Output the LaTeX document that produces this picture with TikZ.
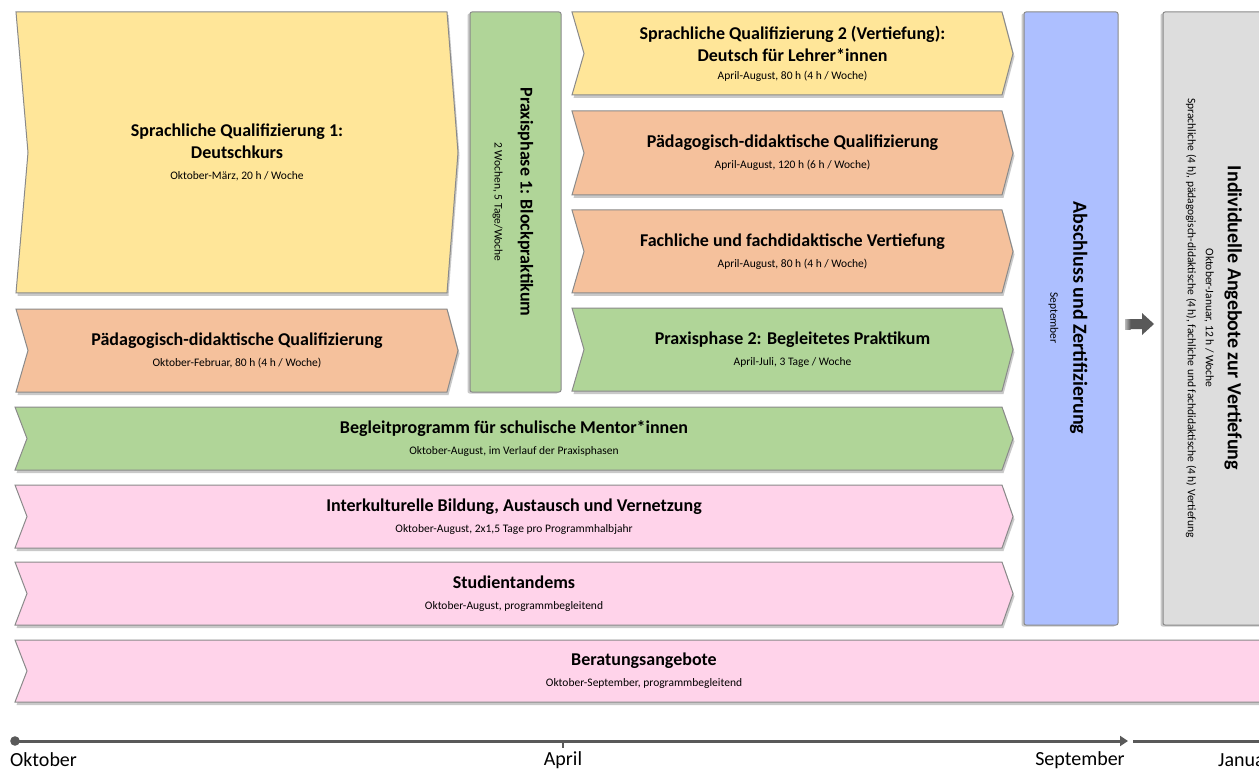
\documentclass[tikz,border=0pt]{standalone}
\usepackage{fontspec}
\setmainfont{Carlito}
\usetikzlibrary{shadows,arrows.meta}
\definecolor{cyel}{HTML}{FFE699}
\definecolor{cora}{HTML}{F5C19C}
\definecolor{cgrn}{HTML}{B0D598}
\definecolor{cpnk}{HTML}{FFD3EA}
\definecolor{cblu}{HTML}{ADBFFF}
\definecolor{cgry}{HTML}{DDDDDD}
\definecolor{cline}{HTML}{8A8A8A}
\definecolor{cdark}{HTML}{595959}
\newcommand\ttl{\fontsize{18}{22}\selectfont\bfseries}
\newcommand\bigttl{\fontsize{20}{24}\selectfont\bfseries}
\newcommand\subf{\fontsize{11.5}{14}\selectfont\mdseries}
\tikzset{
  box/.style={draw=cline, line width=1pt,
    drop shadow={shadow xshift=1.5pt, shadow yshift=-3pt, opacity=0.35, fill=black!60}},
  vbox/.style={draw=cline, line width=1pt, rounded corners=2pt,
    drop shadow={shadow xshift=-2.5pt, shadow yshift=-1.5pt, opacity=0.35, fill=black!60}},
  lbl/.style={align=center, font=\ttl, inner sep=0pt},
  tl/.style={draw=cdark, line width=3pt},
  tlbl/.style={font=\fontsize{20}{24}\selectfont, inner sep=0pt},
}
\newcommand\chev[6]{%
  \path[box, fill=#6] (#2,#3) -- (#4,#3) -- ({#4+11},{(#3+#5)/2}) -- (#4,#5) -- (#2,#5) -- ({#2+12},{(#3+#5)/2}) -- cycle;
  \coordinate (#1) at ({(#2+#4+11)/2},{(#3+#5)/2});
}
\begin{document}
\begin{tikzpicture}[x=1pt,y=-1pt]
\useasboundingbox (0,0) rectangle (1259,770);
\clip (0,0) rectangle (1259,770);
\fill[white] (0,0) rectangle (1259,770);

% left column
\chev{cA}{16}{12}{447}{293}{cyel}
\node[lbl] (tA) at (cA) {Sprachliche Qualifizierung 1:\\Deutschkurs\\[-1pt]\subf Oktober-März, 20 h / Woche};
\chev{cB}{16}{309}{447}{392}{cora}
\node[lbl] (tB) at (cB) {Pädagogisch-didaktische Qualifizierung\\[-1pt]\subf Oktober-Februar, 80 h (4 h / Woche)};

% Praxisphase 1
\path[vbox, fill=cgrn] (470,12) rectangle (561,392);
\node[lbl, rotate=-90] (tP1) at (513,202) {Praxisphase 1: Blockpraktikum\\[4pt]\subf 2 Wochen, 5 Tage/Woche};

% right column
\chev{cC}{572}{12}{1002}{95}{cyel}
\node[lbl] (tC) at (cC) {Sprachliche Qualifizierung 2 (Vertiefung):\\Deutsch für Lehrer*innen\\[-4pt]\subf April-August, 80 h (4 h / Woche)};
\chev{cD}{572}{111}{1002}{195}{cora}
\node[lbl] (tD) at (cD) {Pädagogisch-didaktische Qualifizierung\\[-1pt]\subf April-August, 120 h (6 h / Woche)};
\chev{cE}{572}{210}{1002}{293}{cora}
\node[lbl] (tE) at (cE) {Fachliche und fachdidaktische Vertiefung\\[-1pt]\subf April-August, 80 h (4 h / Woche)};
\chev{cF}{572}{308}{1002}{391}{cgrn}
\node[lbl] (tF) at (cF) {Praxisphase 2: Begleitetes Praktikum\\[-1pt]\subf April-Juli, 3 Tage / Woche};

% full rows
\chev{cG}{15}{407}{1002}{470}{cgrn}
\node[lbl] (tG) at (cG) {Begleitprogramm für schulische Mentor*innen\\[-1pt]\subf Oktober-August, im Verlauf der Praxisphasen};
\chev{cH}{15}{485}{1002}{548}{cpnk}
\node[lbl] (tH) at (cH) {Interkulturelle Bildung, Austausch und Vernetzung\\[-1pt]\subf Oktober-August, 2x1,5 Tage pro Programmhalbjahr};
\chev{cI}{15}{562}{1002}{625}{cpnk}
\node[lbl] (tI) at (cI) {Studientandems\\[-1pt]\subf Oktober-August, programmbegleitend};
\chev{cJ}{15}{640}{1262}{702}{cpnk}
\node[lbl] (tJ) at (cJ) {Beratungsangebote\\[-1pt]\subf Oktober-September, programmbegleitend};

% Abschluss
\path[vbox, fill=cblu] (1024,12) rectangle (1118,625);
\node[lbl, font=\bigttl, rotate=-90] (tK) at (1068,318) {Abschluss und Zertifizierung\\[-1pt]\subf September};

% arrow
\path[fill=cdark] (1130,319) -- (1142,319) -- (1142,313) -- (1154,324) -- (1142,335) -- (1142,329) -- (1130,329) -- cycle;
\shade[left color=gray!55, right color=cdark] (1125,319) rectangle (1130.5,329);

% Individuelle Angebote
\path[vbox, fill=cgry] (1163,12) rectangle (1275,625);
\node[lbl, font=\bigttl, rotate=-90] (tL) at (1214,318) {Individuelle Angebote zur Vertiefung\\[-2pt]\subf Oktober-Januar, 12 h / Woche\\[-6pt]\subf Sprachliche (4 h), pädagogisch-didaktische (4 h), fachliche und fachdidaktische (4 h) Vertiefung};

% timeline
\coordinate (t0) at (15,741);
\coordinate (tA1) at (563,741);
\coordinate (tS) at (1128,741);
\coordinate (tS2) at (1133,741);
\coordinate (tEnd) at (1262,741);
\fill[cdark] (t0) circle (4.8);
\draw[tl, -{Triangle[length=8pt,width=10pt]}] (t0) -- (tS);
\draw[cdark, line width=2.5pt] (tA1) -- ++(0,7);
\draw[tl] (tS2) -- (tEnd);
\node[tlbl, anchor=west] (lO) at (10,760) {Oktober};
\node[tlbl] (lA) at (563,760) {April};
\node[tlbl] (lS) at (1080,760) {September};
\node[tlbl, anchor=west] (lJ) at (1218,760) {Januar};
\end{tikzpicture}
\end{document}
